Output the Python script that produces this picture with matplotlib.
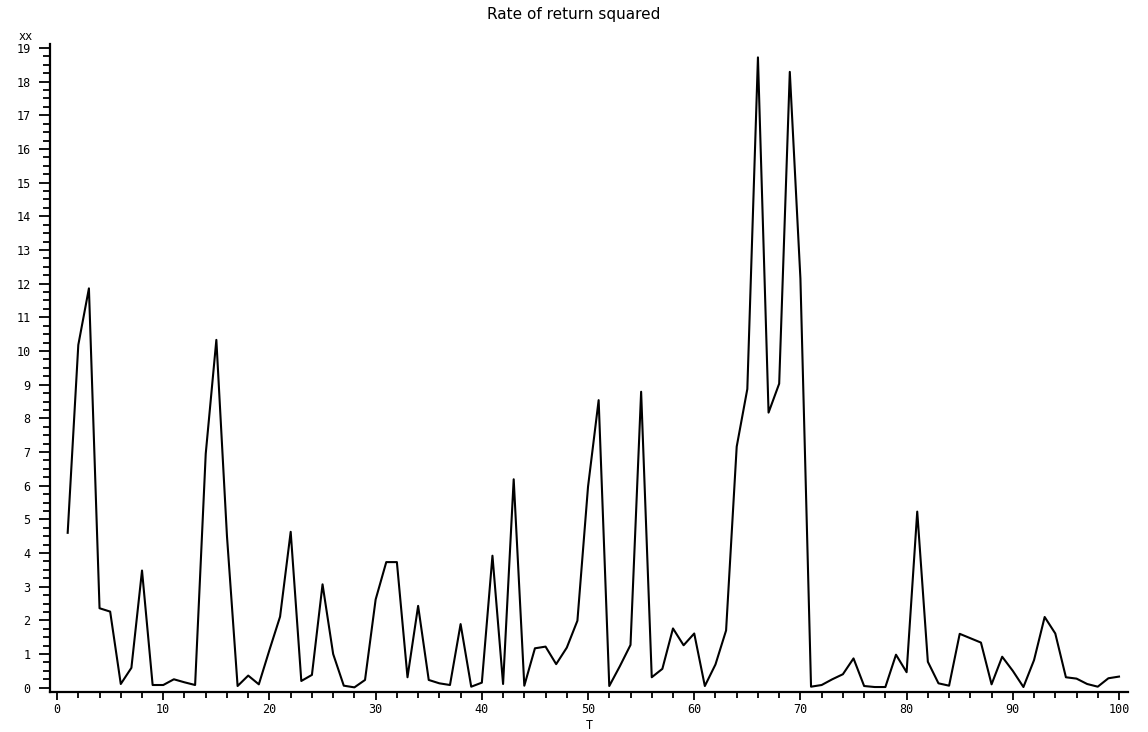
import matplotlib
matplotlib.use('Agg')
import matplotlib.pyplot as plt
from matplotlib.ticker import MultipleLocator

# time index and squared returns
t = list(range(1, 101))
ret_sq = [4.60, 10.18, 11.86, 2.36, 2.26, 0.11, 0.59, 3.48, 0.08, 0.08,
          0.25, 0.16, 0.08, 6.95, 10.33, 4.50, 0.05, 0.36, 0.10, 1.12,
          2.11, 4.63, 0.20, 0.38, 3.07, 1.00, 0.06, 0.01, 0.23, 2.62,
          3.73, 3.73, 0.31, 2.43, 0.23, 0.13, 0.08, 1.89, 0.03, 0.15,
          3.92, 0.11, 6.19, 0.06, 1.17, 1.22, 0.70, 1.19, 1.99, 5.97,
          8.54, 0.05, 0.64, 1.27, 8.79, 0.31, 0.56, 1.76, 1.26, 1.61,
          0.05, 0.69, 1.70, 7.16, 8.87, 18.72, 8.17, 9.03, 18.29, 12.15,
          0.03, 0.08, 0.25, 0.40, 0.87, 0.05, 0.02, 0.02, 0.98, 0.46,
          5.23, 0.77, 0.13, 0.06, 1.60, 1.47, 1.34, 0.10, 0.92, 0.50,
          0.02, 0.82, 2.10, 1.61, 0.31, 0.27, 0.11, 0.03, 0.28, 0.33]

fig = plt.figure(figsize=(11.48, 7.32), dpi=100)
ax = fig.add_axes([0.0436, 0.055, 0.939, 0.885])

ax.plot(t, ret_sq, color='black', linewidth=1.5)

ax.set_xlim(-0.66, 100.85)
ax.set_ylim(-0.12, 19.12)

ax.xaxis.set_major_locator(MultipleLocator(10))
ax.xaxis.set_minor_locator(MultipleLocator(2))
ax.yaxis.set_major_locator(MultipleLocator(1))
ax.yaxis.set_minor_locator(MultipleLocator(0.25))

for side in ['top', 'right']:
    ax.spines[side].set_visible(False)
for side in ['left', 'bottom']:
    ax.spines[side].set_linewidth(1.6)

ax.tick_params(which='both', width=1.3, labelsize=8.5, colors='black')
ax.tick_params(axis='y', which='major', length=8, pad=6)
ax.tick_params(axis='y', which='minor', length=5)
ax.tick_params(axis='x', which='major', length=6, pad=2)
ax.tick_params(axis='x', which='minor', length=4)
for lab in ax.get_xticklabels() + ax.get_yticklabels():
    lab.set_fontfamily('DejaVu Sans Mono')

ax.set_xlabel('T', fontsize=8.5, family='DejaVu Sans Mono', va='center')
ax.xaxis.set_label_coords(0.5, -0.052)
ax.set_ylabel('xx', rotation=0, fontsize=8.5, family='DejaVu Sans Mono', ha='right', va='bottom')
ax.yaxis.set_label_coords(-0.016, 1.0015)

fig.text(0.5, 0.98, 'Rate of return squared', ha='center', va='center', fontsize=11)

fig.savefig('out.png', dpi=100)
